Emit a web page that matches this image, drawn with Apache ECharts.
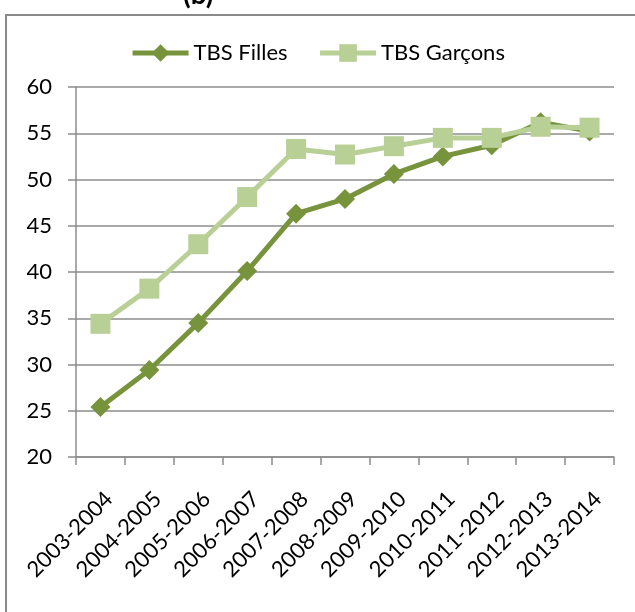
<!doctype html>
<html>
<head>
    <meta charset="utf-8">
    <title>TBS Filles / Garçons</title>
    <script src="https://cdn.jsdelivr.net/npm/echarts@6/dist/echarts.min.js"></script>
    <style>
        html, body{ margin: 0; padding: 0; background: #fff; }
        #chartBox{ width: 635px; height: 612px; }
    </style>
</head>
<body>
    <div id="chartBox"></div>
<script type="text/javascript">
    // années scolaires
    var years = ['2003-2004','2004-2005','2005-2006','2006-2007','2007-2008','2008-2009',
                 '2009-2010','2010-2011','2011-2012','2012-2013','2013-2014'];
    // TBS (%)
    var tbsFilles = [25.4, 29.4, 34.5, 40.1, 46.3, 47.9, 50.6, 52.5, 53.7, 56.2, 55.2];
    var tbsGarcons = [34.4, 38.2, 43.0, 48.1, 53.3, 52.7, 53.6, 54.5, 54.5, 55.7, 55.6];

    var fontName = 'Lato, "Open Sans", sans-serif';
    var gridColor = '#8c8c8c';

    var myChart = echarts.init(document.getElementById('chartBox'));
    var option = {
        animation: false,
        textStyle: { fontFamily: fontName },
        title: {
            text: '(b)',
            left: 178,
            top: -24,
            textStyle: { fontSize: 28, fontWeight: 'bold', color: '#000', fontFamily: fontName }
        },
        graphic: [{
            type: 'rect',
            shape: { x: 6, y: 15, width: 640, height: 620 },
            style: { fill: 'none', stroke: '#8a8a8a', lineWidth: 2 },
            silent: true
        }],
        legend: {
            top: 37,
            left: 'center',
            itemWidth: 56,
            itemHeight: 22,
            itemGap: 30,
            lineStyle: { width: 5 },
            textStyle: { fontSize: 22, color: '#000', fontFamily: fontName },
            data: ['TBS Filles', 'TBS Garçons']
        },
        grid: { left: 76, right: 21, top: 87, bottom: 155 },
        xAxis: {
            type: 'category',
            data: years,
            boundaryGap: true,
            axisLine: { lineStyle: { color: gridColor, width: 1.5 } },
            axisTick: { show: true, length: 8, alignWithLabel: false, lineStyle: { color: gridColor, width: 1.5 } },
            axisLabel: { rotate: 45, margin: 47, padding: [0, -12, 0, 0], fontSize: 22, color: '#000', interval: 0, fontFamily: fontName }
        },
        yAxis: {
            type: 'value',
            min: 20,
            max: 60,
            interval: 5,
            axisLine: { show: true, lineStyle: { color: gridColor, width: 1.5 } },
            axisTick: { show: true, length: 8, lineStyle: { color: gridColor, width: 1.5 } },
            axisLabel: { margin: 24, fontSize: 22, color: '#000', fontFamily: fontName },
            splitLine: { lineStyle: { color: gridColor, width: 1.5 } }
        },
        series: [{
            name: 'TBS Filles',
            type: 'line',
            data: tbsFilles,
            symbol: 'diamond',
            symbolSize: 20,
            itemStyle: { color: '#77933c' },
            lineStyle: { color: '#77933c', width: 5 },
            z: 2
        }, {
            name: 'TBS Garçons',
            type: 'line',
            data: tbsGarcons,
            symbol: 'rect',
            symbolSize: 20,
            itemStyle: { color: '#b8cf96' },
            lineStyle: { color: '#b8cf96', width: 5 },
            z: 3
        }]
    };
    myChart.setOption(option);
</script>
</body>
</html>
